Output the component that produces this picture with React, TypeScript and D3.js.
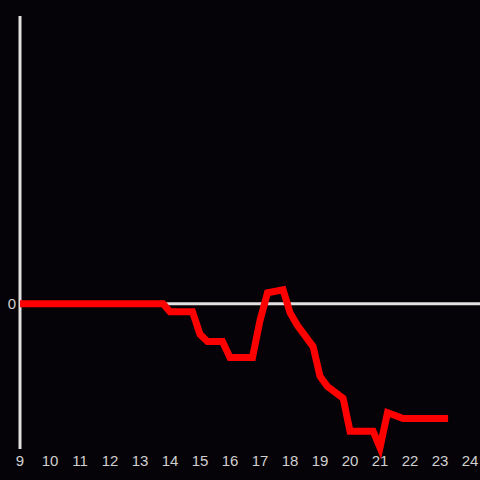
import React from "react";
import * as d3 from "d3";

const hours = [9, 13.77, 14, 14.75, 15, 15.25, 15.75, 16, 16.75, 17, 17.25, 17.77, 18, 18.25, 18.77, 19, 19.25, 19.77, 20, 20.77, 21, 21.25, 21.77, 23.27];
const values = [0, 0, -0.055, -0.055, -0.21, -0.26, -0.26, -0.37, -0.37, -0.116, 0.075, 0.096, -0.062, -0.15, -0.295, -0.5, -0.57, -0.65, -0.877, -0.877, -0.99, -0.75, -0.79, -0.79];
const xTicks = [9, 10, 11, 12, 13, 14, 15, 16, 17, 18, 19, 20, 21, 22, 23, 24];
const yTicks = [0];

const W = 480, H = 480;

export default function App() {
  const x = d3.scaleLinear().domain([9, 24]).range([20, 470]);
  const y = d3.scaleLinear().domain([-1, 1.98]).range([449, 16]);
  const line = d3.line<number>().x((_, i) => x(hours[i])).y((d) => y(d));
  const font = "Liberation Sans, Arial, sans-serif";
  return (
    <svg width={W} height={H} style={{ position: "absolute", left: 0, top: 0, background: "#050307" }}>
      <rect width={W} height={H} fill="#050307" />
      <line x1={x(9)} x2={W} y1={y(0)} y2={y(0)} stroke="#e0e0e0" strokeWidth={3} />
      <line x1={x(9)} x2={x(9)} y1={16} y2={449} stroke="#e0e0e0" strokeWidth={3} />
      <path d={line(values) || ""} fill="none" stroke="#ff0000" strokeWidth={7} strokeLinejoin="miter" />
      {xTicks.map((t) => (
        <text key={t} x={x(t)} y={466} textAnchor="middle" fill="#d0d0d0" fontSize={15} fontFamily={font}>{t}</text>
      ))}
      {yTicks.map((t) => (
        <text key={t} x={16} y={y(t) + 5.5} textAnchor="end" fill="#d0d0d0" fontSize={15} fontFamily={font}>{t}</text>
      ))}
    </svg>
  );
}
